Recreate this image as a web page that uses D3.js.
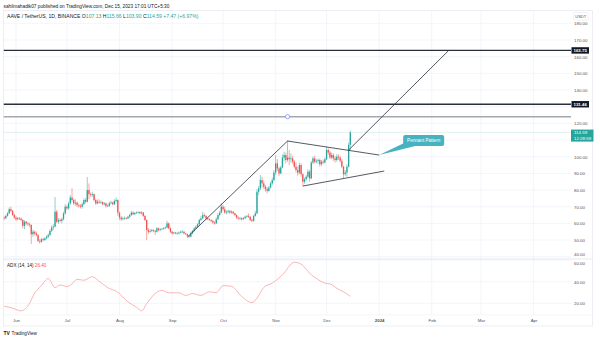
<!DOCTYPE html>
<html><head><meta charset="utf-8">
<script src="https://cdn.jsdelivr.net/npm/d3@7"></script>
<style>html,body{margin:0;padding:0;background:#fff;}svg{display:block;font-family:"Liberation Sans",Arial,sans-serif;}</style>
</head><body><svg id="c" width="600" height="340"></svg>
<script>
// ---------- DATA ----------
const startDate = "2023-05-25";
const firstOpen = 63.5;
const closes = [
 63.0,64.5,66.0,68.5,67.5,65.0,63.5,
 62.5,63.0,62.8,62.0,58.5,61.0,60.0,59.5,59.0,53.5,55.0,54.0,53.0,49.5,49.0,50.5,50.0,51.0,52.0,53.0,55.5,57.5,58.0,67.0,61.0,62.0,61.5,62.5,66.0,70.0,
 69.0,72.0,75.5,74.0,72.0,72.5,71.0,70.5,70.0,71.5,74.0,73.0,80.0,77.5,77.0,77.5,74.0,72.0,73.0,72.5,72.8,71.5,72.0,70.4,70.5,72.0,72.5,71.5,73.5,74.0,66.5,
 63.5,62.5,63.0,63.2,63.0,64.0,65.0,66.5,65.5,66.2,66.5,66.8,66.0,66.5,64.5,62.0,56.0,55.0,55.5,56.0,55.5,55.0,57.0,56.0,56.5,56.8,57.2,57.5,60.0,57.0,55.0,
 54.0,54.5,54.0,54.0,54.5,55.0,55.0,54.0,53.5,52.5,52.0,54.0,55.5,57.0,58.0,59.5,62.0,63.0,65.0,64.5,63.0,62.5,62.0,61.5,60.5,60.0,62.5,65.0,66.5,70.0,
 68.5,66.5,67.0,67.5,66.5,67.0,66.0,65.0,63.5,63.0,63.2,62.5,63.0,64.0,64.5,64.0,62.0,61.5,64.5,66.0,79.0,81.0,86.0,84.0,82.0,80.5,79.5,81.5,84.0,86.0,90.5,
 96.0,93.0,90.0,93.5,99.5,101.0,98.0,99.5,98.5,99.0,97.0,94.0,92.0,90.5,95.0,89.5,85.0,86.5,88.0,91.0,87.0,96.5,99.0,97.0,97.5,98.0,95.5,97.0,96.5,98.5,
 104.0,102.5,99.5,101.0,99.0,98.0,100.0,99.5,97.5,94.0,89.5,90.5,94.0,107.13,114.59
];
const highs = [
 64.3,65.2,66.8,69.5,70.0,68.0,65.8,
 64.6,63.8,63.9,63.5,62.5,61.8,61.5,60.8,60.5,59.4,56.2,55.6,55.0,53.6,50.6,51.2,51.5,51.6,52.8,54.0,56.5,58.8,59.5,75.8,68.0,63.2,63.0,63.4,67.0,71.5,
 71.0,73.0,77.0,81.0,74.8,74.5,73.0,71.8,71.5,72.5,75.0,75.2,87.8,84.0,78.5,79.0,78.0,75.0,74.2,74.5,73.8,73.2,72.8,72.5,71.5,73.0,73.6,73.0,74.5,75.5,74.5,
 67.0,64.5,64.0,64.2,63.8,64.6,65.8,67.5,67.2,66.8,67.2,67.3,67.2,67.4,66.8,64.8,62.4,57.2,56.5,56.8,56.5,56.0,57.8,57.5,57.0,57.2,57.8,58.2,61.5,60.5,57.8,
 55.5,54.9,54.8,54.8,55.2,55.6,56.0,55.4,54.3,53.8,53.0,55.0,56.0,57.8,58.8,60.2,62.8,64.5,67.0,66.0,65.0,63.8,63.0,62.6,62.0,61.2,63.5,66.0,67.5,72.0,
 71.0,70.0,67.8,68.2,68.0,67.8,67.4,66.4,65.4,64.2,63.9,63.6,63.8,64.6,65.0,66.0,64.4,62.8,65.0,67.5,80.5,82.5,89.0,88.0,85.5,83.0,81.8,82.5,85.0,87.5,92.0,
 101.0,98.5,94.0,94.5,101.5,103.0,102.5,109.6,104.0,102.0,100.5,98.0,96.5,94.0,96.5,96.0,90.0,87.5,89.0,92.5,92.0,97.5,100.0,100.5,98.5,99.0,98.8,98.0,98.2,99.5,
 106.0,105.0,103.5,102.5,102.0,100.5,101.5,101.5,100.5,98.5,94.5,92.0,95.5,108.5,115.66
];
const lows = [
 61.8,62.6,64.0,65.6,66.8,64.5,62.5,
 61.5,61.8,62.0,61.3,57.0,56.5,58.8,58.5,57.8,47.6,52.0,52.8,52.2,48.8,47.8,48.4,49.2,49.6,50.4,51.2,52.6,54.8,56.0,57.6,60.2,59.5,60.6,60.0,61.8,65.2,
 68.0,68.2,71.2,73.0,71.0,70.5,69.8,69.5,69.0,68.8,71.0,72.0,72.5,74.5,76.0,76.0,73.2,71.0,71.5,71.8,71.8,70.8,70.8,69.5,69.8,70.0,71.5,70.8,71.0,72.5,64.5,
 62.0,61.5,61.8,62.2,62.4,62.6,63.2,64.5,64.8,65.0,65.6,66.0,65.5,65.4,63.8,61.5,50.0,53.5,54.2,54.8,54.6,53.0,54.5,55.2,55.4,56.0,56.2,56.5,57.0,56.5,54.2,
 53.2,53.6,53.5,53.2,53.5,54.0,54.2,53.4,53.0,51.8,51.2,51.8,53.5,55.0,56.5,57.5,59.0,61.5,62.5,63.5,62.0,61.8,61.5,60.8,59.8,59.2,59.6,62.0,64.2,66.0,
 67.5,65.8,65.5,66.0,65.6,65.8,65.4,64.2,62.6,62.2,62.0,61.6,62.0,62.8,63.5,63.2,61.4,60.8,61.0,64.0,65.5,77.0,80.0,81.5,80.5,79.0,78.0,79.0,81.0,83.0,85.2,
 89.0,91.5,88.5,89.5,93.0,97.5,96.0,97.0,95.0,96.5,95.5,93.0,90.5,88.5,89.5,88.0,82.4,83.8,85.5,87.0,85.0,86.5,95.5,96.0,96.0,95.8,94.0,94.5,95.5,96.0,
 98.0,101.0,98.5,98.5,97.5,96.5,97.0,98.0,96.5,93.0,87.0,88.5,88.0,93.5,103.9
];
const adxDates = ["2023-05-25","2023-05-30","2023-06-04","2023-06-09","2023-06-12","2023-06-16","2023-06-20","2023-06-24","2023-06-27","2023-07-01","2023-07-04","2023-07-07","2023-07-11","2023-07-16","2023-07-20","2023-07-26","2023-07-30","2023-08-06","2023-08-11","2023-08-14","2023-08-17","2023-08-23","2023-08-26","2023-08-30","2023-09-05","2023-09-09","2023-09-13","2023-09-18","2023-09-23","2023-09-27","2023-10-01","2023-10-06","2023-10-12","2023-10-18","2023-10-21","2023-10-25","2023-10-30","2023-11-05","2023-11-12","2023-11-16","2023-11-22","2023-11-25","2023-11-30","2023-12-03","2023-12-08","2023-12-11","2023-12-15"];
const adxValues = [17.3,15.5,13.0,20.0,29.5,36.5,43.0,34.5,37.0,35.5,38.0,42.3,41.3,44.7,40.3,33.7,31.3,21.3,16.3,13.0,19.7,30.3,32.0,29.7,29.7,27.3,29.0,27.3,30.7,29.7,36.3,35.7,26.3,20.7,24.7,34.7,38.7,46.3,58.0,56.3,46.3,43.0,38.7,38.0,33.0,30.7,26.4];
const priceTicks = [40,50,60,70,80,90,100,110,120,130,140,150,160,170,180];
const adxTicks = [20,40,60];
const monthTicks = ["2023-06-01","2023-07-01","2023-08-01","2023-09-01","2023-10-01","2023-11-01","2023-12-01","2024-01-01","2024-02-01","2024-03-01","2024-04-01"];
const monthLabels = ["Jun","Jul","Aug","Sep","Oct","Nov","Dec","2024","Feb","Mar","Apr"];
const levelLines = [163.75, 131.46];
const grayLevel = 124;
const grayHandleDate = "2023-11-08";
const trendFrom = [["2023-09-10",51.8],["2023-11-08",109.4],["2023-11-17",82.4],["2023-12-14",104.0]];
const trendTo   = [["2023-11-08",109.4],["2024-01-01",101.0],["2024-01-04",91.4],["2024-02-11",163.75]];
const calloutText = "Pennant Pattern";
const calloutAnchor = ["2024-01-01",101.0];
const lastPrice = 114.59;
const countdown = "12:28:59";
const headerText = "sahilmahadik07 published on TradingView.com, Dec 15, 2023 17:01 UTC+5:30";
const symbolText = "AAVE / TetherUS, 1D, BINANCE";
const ohlcLabels = ["O","H","L","C"];
const ohlcValues = ["107.13","115.66","103.90","114.59"];
const changeText = "+7.47 (+6.97%)";
const adxName = "ADX (14, 14)";
const adxLast = "26.40";

// ---------- DRAW ----------
const svg = d3.select("#c");
const parse = d3.utcParse("%Y-%m-%d");
const start = parse(startDate);
const bars = closes.map((c,i)=>({d:d3.utcDay.offset(start,i),o:i===0?firstOpen:closes[i-1],c:c,h:highs[i],l:lows[i]}));

const L=3.5, R=571, AXR=592.5, PT=10.5, PB=259, AB=315, TB=326;
const x = d3.scaleUtc().domain([parse("2023-06-01"),parse("2024-04-01")]).range([16,533.6]);
const y = d3.scaleLinear().domain([100,170]).range([156.7,40]);
const ya = d3.scaleLinear().domain([20,40]).range([303.3,281.7]);
const txt = "#131722", axTxt = "#50535e", grid = "#f0f3fa", up="#26a69a", dn="#ef5350";
const FF = "Liberation Sans, Arial, sans-serif";

svg.append("rect").attr("width",600).attr("height",340).attr("fill","#fff");
const defs = svg.append("defs");
defs.append("clipPath").attr("id","cp").append("rect").attr("x",L).attr("y",PT).attr("width",R-L).attr("height",PB-PT);
defs.append("clipPath").attr("id","ca").append("rect").attr("x",L).attr("y",PB).attr("width",R-L).attr("height",AB-PB);

// grids
const gg = svg.append("g");
monthTicks.forEach(m=>{gg.append("line").attr("x1",x(parse(m))).attr("x2",x(parse(m))).attr("y1",PT).attr("y2",AB).attr("stroke",grid).attr("stroke-width",0.8);});
priceTicks.forEach(p=>{const yy=y(p); if(yy>PT&&yy<PB) gg.append("line").attr("x1",L).attr("x2",R).attr("y1",yy).attr("y2",yy).attr("stroke",grid).attr("stroke-width",0.8);});
adxTicks.forEach(v=>{const yy=ya(v); if(yy>PB&&yy<AB) gg.append("line").attr("x1",L).attr("x2",R).attr("y1",yy).attr("y2",yy).attr("stroke",grid).attr("stroke-width",0.8);});

// borders
svg.append("rect").attr("x",L).attr("y",PT).attr("width",AXR-L).attr("height",TB-PT).attr("fill","none").attr("stroke","#e0e3eb").attr("stroke-width",0.6);
svg.append("line").attr("x1",L).attr("x2",AXR).attr("y1",PB).attr("y2",PB).attr("stroke","#e0e3eb").attr("stroke-width",0.8);
svg.append("line").attr("x1",L).attr("x2",AXR).attr("y1",AB).attr("y2",AB).attr("stroke","#eef0f4").attr("stroke-width",0.6);

// price pane
const pp = svg.append("g").attr("clip-path","url(#cp)");
pp.append("line").attr("x1",L).attr("x2",R).attr("y1",y(lastPrice)).attr("y2",y(lastPrice)).attr("stroke",up).attr("stroke-opacity",0.45).attr("stroke-width",0.6).attr("stroke-dasharray","1,1");
const cg = pp.append("g");
cg.selectAll("line.w").data(bars).join("line").attr("class","w")
  .attr("x1",d=>x(d.d)).attr("x2",d=>x(d.d)).attr("y1",d=>y(d.h)).attr("y2",d=>y(d.l))
  .attr("stroke",d=>d.c>=d.o?up:dn).attr("stroke-width",0.6).attr("stroke-opacity",0.85);
cg.selectAll("rect.b").data(bars).join("rect").attr("class","b")
  .attr("x",d=>x(d.d)-0.65).attr("width",1.3)
  .attr("y",d=>y(Math.max(d.o,d.c))).attr("height",d=>Math.max(0.6,Math.abs(y(d.o)-y(d.c))))
  .attr("fill",d=>d.c>=d.o?up:dn);
levelLines.forEach(p=>{pp.append("line").attr("x1",L).attr("x2",R).attr("y1",y(p)).attr("y2",y(p)).attr("stroke","#2a2e39").attr("stroke-width",1.4);});
pp.append("line").attr("x1",L).attr("x2",R).attr("y1",y(grayLevel)).attr("y2",y(grayLevel)).attr("stroke","#a5a8b0").attr("stroke-width",1.4);
pp.append("circle").attr("cx",x(parse(grayHandleDate))).attr("cy",y(grayLevel)).attr("r",2.1).attr("fill","#fff").attr("stroke","#6f8cff").attr("stroke-width",0.7);
trendFrom.forEach((f,i)=>{const t=trendTo[i];
  pp.append("line").attr("x1",x(parse(f[0]))).attr("y1",y(f[1])).attr("x2",x(parse(t[0]))).attr("y2",y(t[1])).attr("stroke","#2a2e39").attr("stroke-width",0.8);});
const ax0=x(parse(calloutAnchor[0])), ay0=y(calloutAnchor[1]);
const bx=ax0+24, by=ay0-20, bw=41, bh=11;
pp.append("path").attr("d",`M${ax0},${ay0} L${bx+2},${by+bh-3.5} L${bx+12},${by+bh} Z`).attr("fill","#47b3c1");
pp.append("rect").attr("x",bx).attr("y",by).attr("width",bw).attr("height",bh).attr("rx",2).attr("fill","#47b3c1");
pp.append("text").attr("x",bx+bw/2).attr("y",by+bh/2+1.6).attr("text-anchor","middle").attr("font-size",4.6).attr("fill","#fff").text(calloutText);

// ADX pane
const ap = svg.append("g").attr("clip-path","url(#ca)");
const adx = adxDates.map((d,i)=>({d:parse(d),v:adxValues[i]}));
ap.append("path").datum(adx).attr("d",d3.line().x(d=>x(d.d)).y(d=>ya(d.v)).curve(d3.curveMonotoneX))
  .attr("fill","none").attr("stroke","#f7a3a3").attr("stroke-width",0.8);

// axes
const fs = 4.4;
const boxed = levelLines.concat([lastPrice]);
const visTicks = priceTicks.filter(p=>y(p)>PT+8 && y(p)<PB+1 && !boxed.some(b=>{const d=y(p)-y(b); return d>-4.5 && d<(b===lastPrice?10:4.5);}));
const pa = svg.append("g").attr("transform","translate(574,0)")
  .call(d3.axisRight(y).tickValues(visTicks).tickSize(0).tickPadding(0).tickFormat(d3.format(".2f")));
pa.select(".domain").remove();
pa.selectAll("text").attr("font-size",fs).attr("fill",axTxt).attr("font-family",FF)
  .attr("dy",d=>y(d)>PB-4?"-0.3em":"0.32em");
const aa = svg.append("g").attr("transform","translate(574,0)")
  .call(d3.axisRight(ya).tickValues(adxTicks).tickSize(0).tickPadding(0).tickFormat(d3.format(".2f")));
aa.select(".domain").remove();
aa.selectAll("text").attr("font-size",fs).attr("fill",axTxt).attr("font-family",FF)
  .attr("dy",d=>ya(d)<PB+3?"0.95em":"0.32em");
const ta = svg.append("g").attr("transform","translate(0,319.2)")
  .call(d3.axisBottom(x).tickValues(monthTicks.map(parse)).tickSize(0).tickPadding(0).tickFormat((d,i)=>monthLabels[i]));
ta.select(".domain").remove();
ta.selectAll("text").attr("font-size",fs).attr("fill",axTxt).attr("font-family",FF)
  .attr("font-weight",(d,i)=>monthLabels[i]==="2024"?"bold":"normal");

// price labels
levelLines.forEach(p=>{const yy=y(p);
  svg.append("rect").attr("x",571.5).attr("y",yy-3.2).attr("width",17.5).attr("height",6.4).attr("fill","#131722");
  svg.append("text").attr("x",580.2).attr("y",yy+1.6).attr("text-anchor","middle").attr("font-size",fs).attr("font-weight","bold").attr("fill","#fff").text(d3.format(".2f")(p));});
const ly=y(lastPrice);
svg.append("rect").attr("x",571).attr("y",ly-2.8).attr("width",22.5).attr("height",12).attr("fill",up);
svg.append("text").attr("x",574).attr("y",ly+1.7).attr("font-size",fs).attr("fill","#fff").text(d3.format(".2f")(lastPrice));
svg.append("text").attr("x",574).attr("y",ly+7.4).attr("font-size",fs).attr("fill","#fff").text(countdown);
svg.append("rect").attr("x",573.5).attr("y",12.5).attr("width",14.5).attr("height",7.5).attr("rx",1).attr("fill","#fff").attr("stroke","#e0e3eb").attr("stroke-width",0.5);
svg.append("text").attr("x",580.75).attr("y",17.6).attr("text-anchor","middle").attr("font-size",4).attr("fill",axTxt).text("USDT");

// header & legends
svg.append("text").attr("x",3.5).attr("y",7.6).attr("font-size",4.75).attr("fill",txt).text(headerText);
const lg = svg.append("text").attr("x",7).attr("y",17.8).attr("font-size",5.1).attr("fill",txt);
lg.append("tspan").text(symbolText+"  ");
ohlcLabels.forEach((l,i)=>{lg.append("tspan").attr("fill",txt).text((i?" ":"")+l); lg.append("tspan").attr("fill",up).text(ohlcValues[i]);});
lg.append("tspan").attr("fill",up).text(" "+changeText);
const al = svg.append("text").attr("x",7).attr("y",266.6).attr("font-size",4.6).attr("fill",txt);
al.append("tspan").text(adxName+" ");
al.append("tspan").attr("fill","#f7525f").text(adxLast);

svg.append("text").attr("x",3.5).attr("y",334.6).attr("font-size",5).attr("font-weight","900").attr("fill",txt).text("TV");
svg.append("text").attr("x",11.5).attr("y",334.6).attr("font-size",4.6).attr("fill",txt).text("TradingView");
</script></body></html>
